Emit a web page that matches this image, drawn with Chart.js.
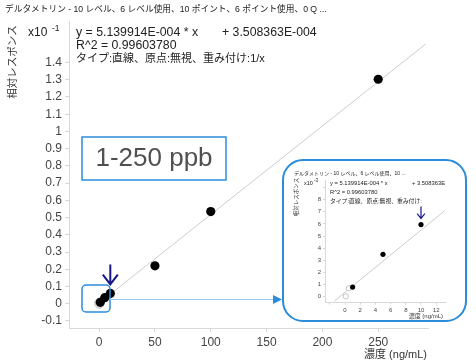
<!DOCTYPE html>
<html>
<head>
<meta charset="utf-8">
<script src="https://cdn.jsdelivr.net/npm/chart.js@4.4.0/dist/chart.umd.min.js"></script>
<style>
    html, body { margin: 0; padding: 0; background: #fff; }
    #wrap { position: relative; width: 476px; height: 363px; overflow: hidden; }
    #main { position: absolute; left: 0; top: 0; }
    #inset { position: absolute; left: 282px; top: 159px; }
</style>
</head>
<body>
<div id="wrap">
    <canvas id="main" width="476" height="363"></canvas>
    <canvas id="inset" width="185" height="163"></canvas>
</div>
<script>
// Calibration levels (ng/mL) and relative responses
const concentrations = [0.1, 0.5, 1, 5, 10, 50, 100, 250];
const responses = [0.00002, 0.00068, 0.00078, 0.00349, 0.00595, 0.0220, 0.0535, 0.1303];
const usedFlags = [false, false, true, true, true, true, true, true];

// Fit from the equation text
const slope = 5.139914E-004;
const intercept = 3.508363E-004;

// Tick labels
const mainXTicks = [0, 50, 100, 150, 200, 250];
const mainYTicks = [-0.1, 0, 0.1, 0.2, 0.3, 0.4, 0.5, 0.6, 0.7, 0.8, 0.9, 1, 1.1, 1.2, 1.3, 1.4];
const insetXTicks = [-2, 0, 2, 4, 6, 8, 10, 12];
const insetYTicks = [0, 1, 2, 3, 4, 5, 6, 7, 8, 9];
const insetHiddenX = [-2];
const insetHiddenY = [9];

// Texts
const mainTitle = 'デルタメトリン - 10 レベル、6 レベル使用、10 ポイント、6 ポイント使用、0 Q ...';
const insetTitle = 'デルタメトリン - 10 レベル、6 レベル使用、10 ...';
const eqLeft = 'y = 5.139914E-004 * x';
const eqRight = '+ 3.508363E-004';
const eqRightShort = '+ 3.508363E';
const r2Text = 'R^2 = 0.99603780';
const typeText = 'タイプ:直線、原点:無視、重み付け:1/x';
const typeTextShort = 'タイプ:直線、原点:無視、重み付け:';
const yTitle = '相対レスポンス';
const xTitle = '濃度 (ng/mL)';
const rangeLabel = '1-250 ppb';
const highlightLevel = 10;

const FONT = '"Liberation Sans", "Noto Sans CJK JP", sans-serif';
const BLUE = '#2a8cdb';
const NAVY = '#16168a';

function pointsFor(factor, used) {
    return concentrations
        .map((c, i) => ({ x: c, y: responses[i] / factor, used: usedFlags[i] }))
        .filter(p => p.used === used);
}

function trendFor(x0, x1, factor) {
    return [
        { x: x0, y: (slope * x0 + intercept) / factor },
        { x: x1, y: (slope * x1 + intercept) / factor }
    ];
}

function axisOptions(ticks, hidden, fontSize, tickLen, pad, min, max, fit) {
    return {
        type: 'linear',
        min: min,
        max: max,
        afterBuildTicks: s => { s.ticks = ticks.map(v => ({ value: v })); },
        afterFit: fit,
        grid: { display: true, drawOnChartArea: false, drawTicks: true, tickLength: tickLen, color: '#d6d6d6' },
        border: { display: true, color: '#d9d9d9' },
        ticks: {
            color: '#444',
            font: { family: FONT, size: fontSize },
            padding: pad,
            maxRotation: 0,
            autoSkip: false,
            callback: v => hidden.includes(v) ? '' : String(v)
        }
    };
}

function drawArrowDown(ctx, x, tipY, len, arm, lw) {
    ctx.save();
    ctx.strokeStyle = NAVY;
    ctx.lineWidth = lw;
    ctx.beginPath();
    ctx.moveTo(x, tipY - len);
    ctx.lineTo(x, tipY);
    ctx.moveTo(x - arm, tipY - arm * 1.3);
    ctx.lineTo(x, tipY);
    ctx.lineTo(x + arm, tipY - arm * 1.3);
    ctx.stroke();
    ctx.restore();
}

function drawVerticalText(ctx, text, cx, cy, size) {
    ctx.save();
    ctx.translate(cx, cy);
    ctx.rotate(-Math.PI / 2);
    ctx.font = `${size}px ${FONT}`;
    ctx.textAlign = 'center';
    ctx.textBaseline = 'middle';
    ctx.fillText(text, 0, 0);
    ctx.restore();
}

// Overlay for the main chart: texts, boxes, arrows
const mainOverlay = {
    id: 'mainOverlay',
    afterDraw(chart) {
        const ctx = chart.ctx;
        const { x, y } = chart.scales;
        ctx.save();
        ctx.fillStyle = '#222';
        ctx.textBaseline = 'middle';

        ctx.font = `8.7px ${FONT}`;
        ctx.fillText(mainTitle, 5, 10);

        ctx.font = `12px ${FONT}`;
        ctx.fillText('x10', 28, 33);
        ctx.font = `8.5px ${FONT}`;
        ctx.fillText('-1', 52, 29);

        ctx.font = `12.3px ${FONT}`;
        ctx.fillText(eqLeft, 76, 33);
        ctx.fillText(eqRight, 222, 33);
        ctx.fillText(r2Text, 76, 46);
        ctx.font = `11px ${FONT}`;
        ctx.fillText(typeText, 76, 59);

        ctx.fillStyle = '#333';
        drawVerticalText(ctx, yTitle, 13, 62, 10.5);

        ctx.font = `11px ${FONT}`;
        ctx.textAlign = 'right';
        ctx.fillText(xTitle, 427, 355);
        ctx.textAlign = 'left';

        // range label box
        ctx.strokeStyle = BLUE;
        ctx.lineWidth = 1.5;
        ctx.strokeRect(82, 137, 144, 43);
        ctx.fillStyle = '#505050';
        ctx.font = `26px ${FONT}`;
        ctx.textAlign = 'center';
        ctx.fillText(rangeLabel, 154, 159);

        // zoom box round the origin
        ctx.beginPath();
        ctx.roundRect(82, 285, 28, 27, 4);
        ctx.stroke();

        // connector to the inset
        ctx.strokeStyle = '#9dcbf0';
        ctx.lineWidth = 1;
        ctx.beginPath();
        ctx.moveTo(110, 299.5);
        ctx.lineTo(274, 299.5);
        ctx.stroke();
        ctx.fillStyle = BLUE;
        ctx.beginPath();
        ctx.moveTo(273, 295);
        ctx.lineTo(282, 299.5);
        ctx.lineTo(273, 304);
        ctx.closePath();
        ctx.fill();

        // arrow above the highlighted level
        const i = concentrations.indexOf(highlightLevel);
        const px = x.getPixelForValue(highlightLevel);
        const py = y.getPixelForValue(responses[i] / 0.1);
        drawArrowDown(ctx, px, py - 9, 20, 7.5, 2);
        ctx.restore();
    }
};

// Inset frame and texts
const insetOverlay = {
    id: 'insetOverlay',
    beforeDraw(chart) {
        const ctx = chart.ctx;
        ctx.save();
        ctx.beginPath();
        ctx.roundRect(1, 1, 183, 161, 20);
        ctx.fillStyle = '#fff';
        ctx.fill();
        ctx.strokeStyle = BLUE;
        ctx.lineWidth = 2;
        ctx.stroke();
        ctx.restore();
    },
    afterDraw(chart) {
        const ctx = chart.ctx;
        const { x, y } = chart.scales;
        ctx.save();
        ctx.fillStyle = '#222';
        ctx.textBaseline = 'middle';

        ctx.font = `5px ${FONT}`;
        ctx.fillText(insetTitle, 12, 15);

        ctx.font = `5.5px ${FONT}`;
        ctx.fillText('x10', 22, 24);
        ctx.font = `4.5px ${FONT}`;
        ctx.fillText('-3', 32, 22);

        ctx.font = `5.8px ${FONT}`;
        ctx.fillText(eqLeft, 48, 24);
        ctx.fillText(eqRightShort, 130, 24);
        ctx.fillText('R^2 = 0.99603780', 48, 33);
        ctx.fillText(typeTextShort, 48, 42);

        ctx.fillStyle = '#333';
        drawVerticalText(ctx, yTitle, 14, 38, 5.5);

        ctx.font = `6px ${FONT}`;
        ctx.textAlign = 'right';
        ctx.fillText(xTitle, 161, 157);

        const i = concentrations.indexOf(highlightLevel);
        const px = x.getPixelForValue(highlightLevel);
        const py = y.getPixelForValue(responses[i] / 0.001);
        drawArrowDown(ctx, px, py - 6, 12, 3.8, 1.2);
        ctx.restore();
    }
};

function makeDatasets(factor, x0, x1, radius) {
    return [
        {
            data: pointsFor(factor, true),
            pointRadius: radius,
            pointBackgroundColor: '#000',
            pointBorderColor: '#000',
            pointBorderWidth: 0,
            showLine: false,
            order: 0
        },
        {
            data: pointsFor(factor, false),
            pointRadius: radius,
            pointBackgroundColor: '#fff',
            pointBorderColor: '#b5b5b5',
            pointBorderWidth: 0.8,
            showLine: false,
            order: 1
        },
        {
            data: trendFor(x0, x1, factor),
            showLine: true,
            borderColor: '#cccccc',
            borderWidth: 1,
            pointRadius: 0,
            order: 2
        }
    ];
}

new Chart(document.getElementById('main').getContext('2d'), {
    type: 'scatter',
    data: { datasets: makeDatasets(0.1, 0, 292.6, 4.6) },
    options: {
        responsive: false,
        animation: false,
        devicePixelRatio: 1,
        layout: { padding: { left: 0, top: 21, right: 48, bottom: 0 } },
        plugins: { legend: { display: false }, tooltip: { enabled: false } },
        scales: {
            x: axisOptions(mainXTicks, [], 12, 4, 3, -27, 294.6, s => { s.height = 35; }),
            y: axisOptions(mainYTicks, [], 12, 4, 3, -0.141, 1.641, s => { s.width = 69; })
        }
    },
    plugins: [mainOverlay]
});

new Chart(document.getElementById('inset').getContext('2d'), {
    type: 'scatter',
    data: { datasets: makeDatasets(0.001, -1.4, 13.1, 2.6) },
    options: {
        responsive: false,
        animation: false,
        devicePixelRatio: 1,
        layout: { padding: { left: 0, top: 21, right: 22, bottom: 0 } },
        plugins: { legend: { display: false }, tooltip: { enabled: false } },
        scales: {
            x: axisOptions(insetXTicks, insetHiddenX, 6, 2.5, 2, -2.57, 13.16, s => { s.height = 20; }),
            y: axisOptions(insetYTicks, insetHiddenY, 6, 2.5, 2, -0.45, 9.63, s => { s.width = 43.5; })
        }
    },
    plugins: [insetOverlay]
});
</script>
</body>
</html>
